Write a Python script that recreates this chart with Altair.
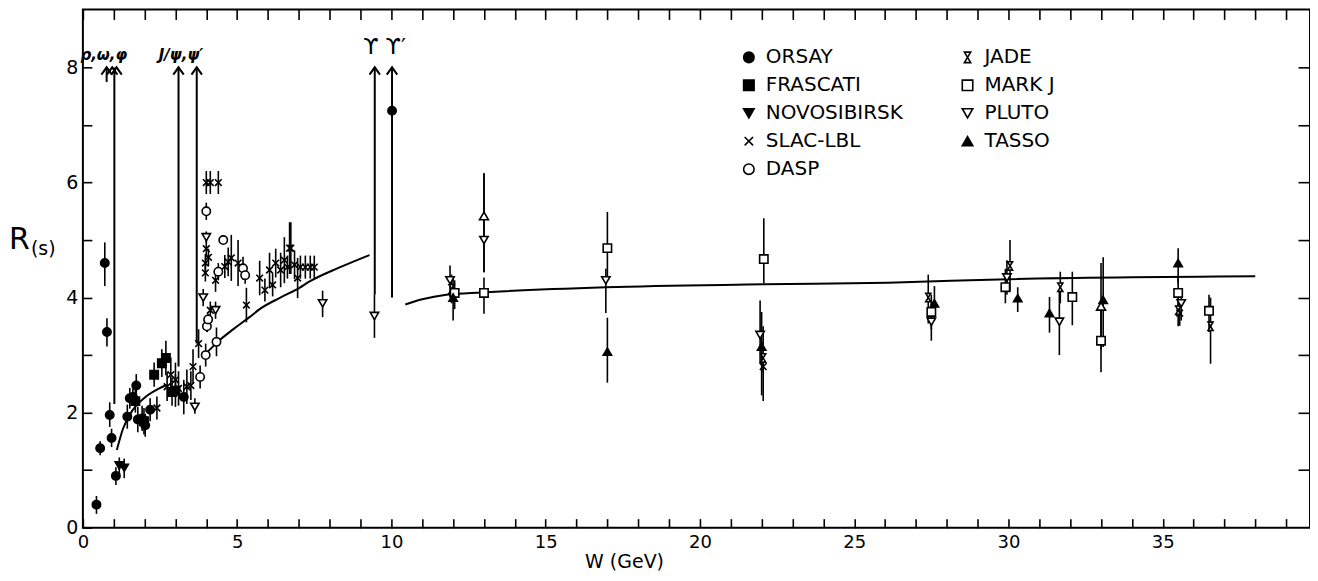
import altair as alt
import pandas as pd

FONT = "DejaVu Sans"

# ---------------- data ----------------
orsay_w = [0.44, 0.56, 0.71, 0.78, 0.87, 0.93, 1.07, 1.44, 1.52, 1.62, 1.73, 1.78, 1.92, 2.02, 2.18, 3.27, 10.02]
orsay_r = [0.40, 1.38, 4.60, 3.40, 1.96, 1.56, 0.90, 1.93, 2.25, 2.27, 2.47, 1.88, 1.90, 1.78, 2.05, 2.27, 7.25]
orsay_lo = [0.24, 1.26, 4.20, 3.15, 1.75, 1.40, 0.74, 1.72, 2.07, 2.12, 2.27, 1.66, 1.68, 1.58, 1.85, 1.97, 7.25]
orsay_hi = [0.55, 1.50, 4.96, 3.64, 2.18, 1.72, 1.05, 2.14, 2.43, 2.42, 2.67, 2.10, 2.12, 1.98, 2.25, 2.57, 7.25]

frascati_w = [1.70, 1.98, 2.31, 2.56, 2.69, 2.89, 3.00]
frascati_r = [2.20, 1.85, 2.66, 2.86, 2.95, 2.36, 2.38]
frascati_lo = [2.00, 1.62, 2.45, 2.62, 2.65, 2.12, 2.10]
frascati_hi = [2.40, 2.08, 2.87, 3.10, 3.25, 2.60, 2.66]

novo_w = [1.18, 1.34]
novo_r = [1.08, 1.04]
novo_lo = [0.92, 0.86]
novo_hi = [1.22, 1.20]

slac_w = [2.40, 2.73, 2.85, 3.00, 3.10, 3.37, 3.50, 3.57, 3.75, 4.00, 4.13, 4.39, 4.00, 4.07,
          3.97, 3.97, 4.30, 4.13, 4.03, 4.60, 4.71, 4.81, 5.03, 5.30, 5.73, 5.90, 6.05, 6.15,
          6.25, 6.41, 6.53, 6.63, 6.70, 6.74, 6.86, 6.96, 7.05, 7.21, 7.37, 7.50, 22.05, 35.55]
slac_r = [2.08, 2.45, 2.66, 2.57, 2.42, 2.45, 2.47, 2.80, 3.20, 6.00, 6.00, 6.00, 4.85, 4.70,
          4.60, 4.43, 4.30, 3.78, 3.55, 4.54, 4.62, 4.69, 4.60, 3.87, 4.34, 4.13, 4.48, 4.22,
          4.60, 4.48, 4.65, 4.53, 4.86, 4.86, 4.57, 4.34, 4.53, 4.53, 4.53, 4.53, 2.80, 3.73]
slac_err = [0.20, 0.25, 0.30, 0.30, 0.30, 0.30, 0.25, 0.30, 0.25, 0.20, 0.20, 0.20, 0.15, 0.15,
            0.15, 0.15, 0.20, 0.15, 0.15, 0.20, 0.25, 0.40, 0.40, 0.30, 0.30, 0.20, 0.30, 0.20,
            0.25, 0.30, 0.40, 0.20, 0.45, 0.45, 0.25, 0.35, 0.20, 0.20, 0.20, 0.20, 0.10, 0.22]

dasp_w = [3.80, 3.98, 4.33, 4.00, 4.55, 4.39, 5.19, 5.26, 4.02, 4.06]
dasp_r = [2.62, 3.00, 3.23, 5.50, 5.00, 4.45, 4.51, 4.39, 3.50, 3.62]
dasp_err = [0.20, 0.20, 0.25, 0.15, 0.00, 0.15, 0.20, 0.15, 0.10, 0.10]

pluto_w = [3.63, 3.90, 4.30, 4.00, 7.77, 9.45, 11.90, 13.00, 16.95, 21.95, 27.50, 29.95, 31.65, 35.60]
pluto_r = [2.10, 4.00, 3.78, 5.05, 3.90, 3.68, 4.30, 5.00, 4.30, 3.35, 3.58, 4.35, 3.58, 3.90]
pluto_lo = [1.98, 3.85, 3.63, 4.95, 3.66, 3.30, 4.00, 4.44, 3.73, 2.85, 3.25, 4.05, 3.00, 3.60]
pluto_hi = [2.25, 4.15, 3.93, 5.15, 4.12, 4.05, 4.56, 6.16, 4.50, 3.95, 3.90, 4.65, 4.10, 4.15]

# open up-triangles (not in the legend)
up_w = [13.00, 33.00]
up_r = [5.42, 3.85]
up_lo = [4.44, 3.10]
up_hi = [6.16, 4.60]

jade_w = [11.95, 22.05, 27.40, 30.05, 31.68, 35.50, 36.55]
jade_r = [4.15, 2.95, 4.00, 4.55, 4.18, 3.78, 3.50]
jade_lo = [3.90, 2.20, 3.55, 4.10, 3.90, 3.50, 2.85]
jade_hi = [4.40, 3.50, 4.40, 5.00, 4.45, 4.05, 4.00]

markj_w = [12.05, 13.00, 17.00, 22.07, 27.50, 29.90, 32.07, 33.00, 35.50, 36.50]
markj_r = [4.08, 4.08, 4.86, 4.67, 3.75, 4.18, 4.01, 3.25, 4.08, 3.77]
markj_lo = [3.80, 3.72, 4.34, 4.25, 3.45, 3.90, 3.52, 2.70, 3.85, 3.40]
markj_hi = [4.30, 4.35, 5.49, 5.38, 4.05, 4.50, 4.45, 3.90, 4.35, 4.05]

tasso_w = [12.00, 17.00, 22.00, 27.60, 30.30, 31.33, 33.07, 35.50]
tasso_r = [4.00, 3.06, 3.15, 3.90, 3.99, 3.73, 3.96, 4.60]
tasso_lo = [3.60, 2.52, 2.30, 3.60, 3.75, 3.39, 3.14, 4.25]
tasso_hi = [4.35, 3.65, 3.75, 4.20, 4.18, 4.01, 4.70, 4.86]

# theory curve (three pieces)
seg1_w = [1.10, 1.30, 1.62, 2.00, 2.40, 2.72]
seg1_r = [1.35, 1.72, 2.05, 2.26, 2.40, 2.48]
seg2_w = [4.05, 4.37, 4.90, 5.40, 5.73, 6.40, 7.02, 7.35, 8.30, 9.29]
seg2_r = [3.06, 3.23, 3.46, 3.66, 3.80, 4.00, 4.17, 4.28, 4.52, 4.74]
seg3_w = [10.45, 11.00, 11.78, 12.94, 16.96, 22.07, 26.10, 30.00, 38.00]
seg3_r = [3.88, 3.97, 4.05, 4.09, 4.18, 4.23, 4.26, 4.32, 4.37]

# resonance arrows
arrow_w = [0.77, 1.02, 3.10, 3.69, 9.46, 10.02]
arrow_lo = [7.75, 2.15, 2.80, 3.20, 4.05, 4.00]
arrow_hi = [8.00, 8.00, 8.00, 8.00, 8.00, 8.00]
head_w = [0.77, 0.95, 1.09, 3.10, 3.69, 9.46, 10.02]
head_r = [7.94, 7.94, 7.94, 7.94, 7.94, 7.94, 7.94]

res_labels = ["ρ,ω,φ", "J/ψ,ψ′"]
res_w = [0.68, 3.18]
res_r = [8.22, 8.22]
ups_labels = ["ϒ ϒ′"]
ups_w = [9.78]
ups_r = [8.36]

ORDER = ["ORSAY", "FRASCATI", "NOVOSIBIRSK", "SLAC-LBL", "DASP", "JADE", "MARK J", "PLUTO", "TASSO"]
XPATH = "M-0.8,-0.8L0.8,0.8M-0.8,0.8L0.8,-0.8"
HOURGLASS = "M-0.6,-1L0.6,-1L-0.6,1L0.6,1Z"
SHAPES = ["circle", "square", "triangle-down", XPATH, "circle", HOURGLASS, "square", "triangle-down", "triangle-up"]
FILLS = ["black", "black", "black", "black", "white", "white", "white", "white", "black"]
STROKES = ["black"] * 9

# ---------------- tables ----------------
def table(name, w, r, lo, hi):
    return pd.DataFrame({"W": w, "R": r, "lo": lo, "hi": hi, "exp": name})

pts = pd.concat([
    table("ORSAY", orsay_w, orsay_r, orsay_lo, orsay_hi),
    table("FRASCATI", frascati_w, frascati_r, frascati_lo, frascati_hi),
    table("NOVOSIBIRSK", novo_w, novo_r, novo_lo, novo_hi),
    table("SLAC-LBL", slac_w, slac_r, [r - e for r, e in zip(slac_r, slac_err)], [r + e for r, e in zip(slac_r, slac_err)]),
    table("DASP", dasp_w, dasp_r, [r - e for r, e in zip(dasp_r, dasp_err)], [r + e for r, e in zip(dasp_r, dasp_err)]),
    table("PLUTO", pluto_w, pluto_r, pluto_lo, pluto_hi),
    table("JADE", jade_w, jade_r, jade_lo, jade_hi),
    table("MARK J", markj_w, markj_r, markj_lo, markj_hi),
    table("TASSO", tasso_w, tasso_r, tasso_lo, tasso_hi),
], ignore_index=True)
up_df = table("up", up_w, up_r, up_lo, up_hi)
bars = pd.concat([pts, up_df], ignore_index=True)

curve = pd.concat([
    pd.DataFrame({"W": seg1_w, "R": seg1_r, "seg": "a"}),
    pd.DataFrame({"W": seg2_w, "R": seg2_r, "seg": "b"}),
    pd.DataFrame({"W": seg3_w, "R": seg3_r, "seg": "c"}),
], ignore_index=True)

arrows = pd.DataFrame({"W": arrow_w, "lo": arrow_lo, "hi": arrow_hi})
heads = pd.DataFrame({"W": head_w, "R": head_r})
res_df = pd.DataFrame({"W": res_w, "R": res_r, "t": res_labels})
ups_df = pd.DataFrame({"W": ups_w, "R": ups_r, "t": ups_labels})

# ---------------- scales / axes ----------------
PX_W = 1229
PX_H = 519
XMAX = PX_W / 30.9
YMAX = PX_H / 57.6
xs = alt.Scale(domain=[0, XMAX], nice=False, zero=False)
ys = alt.Scale(domain=[0, YMAX], nice=False, zero=False)

ax_bottom = alt.Axis(orient="bottom", values=list(range(0, 40)),
                     labelExpr="datum.value % 5 === 0 ? datum.label : ''",
                     tickSize=9, offset=-9, domain=False, grid=False, tickWidth=1.6, tickColor="black",
                     labelPadding=6, labelFont=FONT, labelFontSize=18, labelColor="black",
                     labelFlush=False, labelOverlap=False,
                     title="W (GeV)", titleFont=FONT, titleFontSize=19, titleFontWeight="normal",
                     titleColor="black", titleX=542, titleY=43, titleAlign="center", titleBaseline="middle")
ax_left = alt.Axis(orient="left", values=list(range(0, 9)),
                   labelExpr="datum.value % 2 === 0 ? datum.label : ''",
                   tickSize=9, offset=-9, domain=False, grid=False, tickWidth=1.6, tickColor="black",
                   labelPadding=5, labelFont=FONT, labelFontSize=19, labelColor="black",
                   labelFlush=False, labelOverlap=False, title=None)
ax_top = alt.Axis(orient="top", values=list(range(0, 40)), tickSize=10, offset=-10, labels=False,
                  domain=False, grid=False, title=None, tickWidth=1.6, tickColor="black")
ax_right = alt.Axis(orient="right", values=list(range(1, 9)), tickSize=12, offset=-12, labels=False,
                    domain=False, grid=False, title=None, tickWidth=1.6, tickColor="black")

leg = alt.Legend(title=None, orient="none", legendX=657, legendY=38, columns=2,
                 labelFont=FONT, labelFontSize=20, labelColor="black", labelLimit=400,
                 symbolSize=110, symbolStrokeWidth=1.6,
                 rowPadding=8, columnPadding=54, labelOffset=7, padding=0)

# ---------------- layers ----------------
err_layer = alt.Chart(bars).mark_rule(color="black", strokeWidth=1.6).encode(
    x=alt.X("W:Q", scale=xs, axis=ax_bottom),
    y=alt.Y("lo:Q", scale=ys, axis=ax_left),
    y2="hi:Q",
)

curve_layer = alt.Chart(curve).mark_line(color="black", strokeWidth=2, interpolate="monotone").encode(
    x=alt.X("W:Q", scale=xs, axis=ax_top),
    y=alt.Y("R:Q", scale=ys, axis=ax_right),
    detail="seg:N",
)

arrow_layer = alt.Chart(arrows).mark_rule(color="black", strokeWidth=2).encode(
    x=alt.X("W:Q", scale=xs, axis=None),
    y=alt.Y("lo:Q", scale=ys, axis=None),
    y2="hi:Q",
)

head_layer = alt.Chart(heads).mark_point(shape="M-1,0.7L0,-0.7L1,0.7", size=110, filled=False,
                                          stroke="black", strokeWidth=2, opacity=1).encode(
    x=alt.X("W:Q", scale=xs, axis=None),
    y=alt.Y("R:Q", scale=ys, axis=None),
)

pt_layer = alt.Chart(pts).mark_point(filled=True, strokeWidth=1.6, size=70, opacity=1).encode(
    x=alt.X("W:Q", scale=xs, axis=None),
    y=alt.Y("R:Q", scale=ys, axis=None),
    shape=alt.Shape("exp:N", scale=alt.Scale(domain=ORDER, range=SHAPES), legend=leg),
    fill=alt.Fill("exp:N", scale=alt.Scale(domain=ORDER, range=FILLS), legend=leg),
    stroke=alt.Stroke("exp:N", scale=alt.Scale(domain=ORDER, range=STROKES), legend=leg),
)

up_layer = alt.Chart(up_df).mark_point(shape="triangle-up", filled=True, fill="white", stroke="black",
                                        strokeWidth=1.6, size=80, opacity=1).encode(
    x=alt.X("W:Q", scale=xs, axis=None),
    y=alt.Y("R:Q", scale=ys, axis=None),
)

res_layer = alt.Chart(res_df).mark_text(font=FONT, fontSize=15, fontStyle="italic", fontWeight="bold",
                                         color="black").encode(
    x=alt.X("W:Q", scale=xs, axis=None),
    y=alt.Y("R:Q", scale=ys, axis=None),
    text="t:N",
)
ups_layer = alt.Chart(ups_df).mark_text(font=FONT, fontSize=22, color="black").encode(
    x=alt.X("W:Q", scale=xs, axis=None),
    y=alt.Y("R:Q", scale=ys, axis=None),
    text="t:N",
)

ylab_R = alt.Chart(pd.DataFrame({"t": ["R"]})).mark_text(font=FONT, fontSize=30, align="left",
                                                          baseline="alphabetic", color="black").encode(
    text="t:N", x=alt.value(-74), y=alt.value(240))
ylab_s = alt.Chart(pd.DataFrame({"t": ["(s)"]})).mark_text(font=FONT, fontSize=19, align="left",
                                                            baseline="alphabetic", color="black").encode(
    text="t:N", x=alt.value(-52), y=alt.value(246))

chart = alt.layer(
    err_layer, curve_layer, arrow_layer, head_layer, pt_layer, up_layer, res_layer, ups_layer, ylab_R, ylab_s
).resolve_axis(x="independent", y="independent").properties(
    width=PX_W, height=PX_H,
    padding={"left": 75, "top": 1, "right": 0, "bottom": 45},
    autosize=alt.AutoSizeParams(type="none"),
    background="white",
).configure_view(stroke="black", strokeWidth=2)

chart.save("out.html", embed_options={"renderer": "svg", "actions": False})
